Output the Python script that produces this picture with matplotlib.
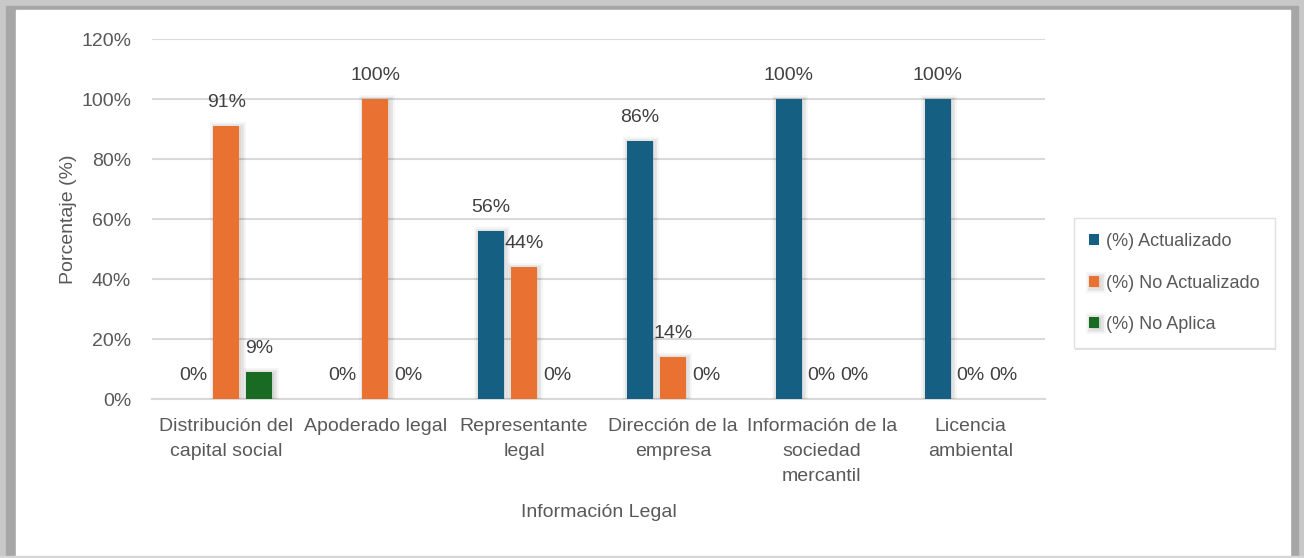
import matplotlib.pyplot as plt
import matplotlib.patheffects as pe
from matplotlib.patches import Rectangle
import numpy as np

# DATOS
categorias = ['Distribución del\ncapital social', 'Apoderado legal', 'Representante\nlegal',
              'Dirección de la\nempresa', 'Información de la\nsociedad\nmercantil', 'Licencia\nambiental']
actualizado = [0, 0, 56, 86, 100, 100]
no_actualizado = [91, 100, 44, 14, 0, 0]
no_aplica = [9, 0, 0, 0, 0, 0]
series = ['(%) Actualizado', '(%) No Actualizado', '(%) No Aplica']
colores = ['#156082', '#E97132', '#196B24']
yticks = [0, 20, 40, 60, 80, 100, 120]

plt.rcParams['font.family'] = ['Liberation Sans', 'DejaVu Sans']
texto = '#595959'
fs = 14

fig = plt.figure(figsize=(13.04, 5.58), dpi=100)
W, H = 1304, 558

# MARCO GRIS (borde de la captura)
fig.patches.append(Rectangle((0, 0), 1, 1, transform=fig.transFigure, color='#c8c8c8', zorder=-10))
fig.patches.append(Rectangle((6 / W, 2 / H), 1292 / W, 550 / H, transform=fig.transFigure,
                             color='#a6a6a6', zorder=-9))
fig.patches.append(Rectangle((16 / W, 2 / H), 1274 / W, 546 / H, transform=fig.transFigure,
                             color='white', zorder=-8))
fig.patches.append(Rectangle((0, 0), 1, 2 / H, transform=fig.transFigure, color='#d6d6d6', zorder=-7))

ax = fig.add_axes([152 / W, 159 / H, 893 / W, 360 / H])
ax.set_facecolor('none')

x = np.arange(len(categorias))
ancho = 0.175
paso = 0.222
sombra = [pe.Stroke(linewidth=7, foreground='#000000', alpha=0.04, offset=(1, -1)),
          pe.Stroke(linewidth=4, foreground='#000000', alpha=0.07, offset=(1, -1)),
          pe.Normal()]

for i, (valores, nombre) in enumerate(zip([actualizado, no_actualizado, no_aplica], series)):
    pos = x + (i - 1) * paso
    barras = ax.bar(pos, valores, ancho, color=colores[i], label=nombre, zorder=3)
    for b in barras:
        if b.get_height() > 0:
            b.set_path_effects(sombra)
    for p, v in zip(pos, valores):
        ax.annotate(f'{v}%', (p, v), xytext=(0, 17), textcoords='offset points',
                    ha='center', va='center', fontsize=fs, color='#404040', zorder=4)

ax.set_ylim(0, 120)
ax.set_xlim(-0.5, len(categorias) - 0.5)
ax.set_yticks(yticks)
ax.set_yticklabels([f'{t}%' for t in yticks])
ax.set_xticks(x)
ax.set_xticklabels(categorias, linespacing=1.6)
ax.tick_params(axis='both', length=0, labelsize=fs, colors=texto)
ax.tick_params(axis='x', pad=14)
ax.tick_params(axis='y', pad=15)
ax.grid(axis='y', color='#d9d9d9', linewidth=1.5, zorder=0)
for s in ['top', 'right', 'left']:
    ax.spines[s].set_visible(False)
ax.spines['bottom'].set_color('#d9d9d9')
ax.spines['bottom'].set_linewidth(1.5)

ax.set_ylabel('Porcentaje (%)', fontsize=fs, color=texto, labelpad=3)
ax.set_xlabel('Información Legal', fontsize=fs, color=texto, labelpad=14)

leg = fig.legend(loc='center left', bbox_to_anchor=(1074 / W, 1 - 283 / H), fontsize=13,
                 frameon=True, fancybox=False, shadow=False, framealpha=1, facecolor='white',
                 handlelength=0.55, handleheight=0.55, handletextpad=0.35, labelspacing=1.35,
                 borderpad=0.85, borderaxespad=0, labelcolor=texto)
leg.get_frame().set_edgecolor('#e0e0e0')
leg.get_frame().set_linewidth(1)
leg.get_frame().set_path_effects([pe.withSimplePatchShadow(offset=(1, -1), shadow_rgbFace='#000000', alpha=0.12)])

plt.savefig('out.png', dpi=100)
